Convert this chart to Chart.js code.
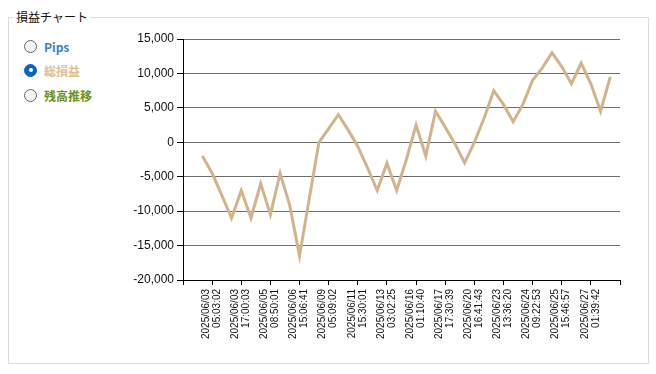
<!DOCTYPE html>
<html>
<head>
<meta charset="utf-8">
<script src="https://cdn.jsdelivr.net/npm/chart.js@4/dist/chart.umd.min.js"></script>
<style>
  html,body{margin:0;padding:0;background:#fff;}
  body{width:656px;height:374px;position:relative;overflow:hidden;font-family:"Noto Sans CJK JP","Noto Sans",sans-serif;}
  #box{position:absolute;left:8px;top:17px;width:639px;height:345px;border:1px solid #dcdcdc;}
  #title{position:absolute;left:14px;top:8px;background:#fff;padding:0 2px;font-size:12px;line-height:18px;color:#111;}
  .radio{position:absolute;left:24px;height:16px;display:flex;align-items:center;font-size:12px;font-weight:bold;}
  .dot{width:11px;height:11px;border-radius:50%;border:1px solid #666;background:#f3f3f3;margin-right:7px;box-sizing:content-box;position:relative;}
  .dot.on{background:#0a64c2;border-color:#0a64c2;}
  .dot.on::after{content:"";position:absolute;left:3.5px;top:3.5px;width:4px;height:4px;border-radius:50%;background:#fff;}
  canvas{position:absolute;left:0;top:0;}
</style>
</head>
<body>
<div id="box"></div>
<div id="title">損益チャート</div>
<div class="radio" style="top:38px;color:#3c82c8"><span class="dot"></span><span>Pips</span></div>
<div class="radio" style="top:62px;color:#dcc095"><span class="dot on"></span><span>総損益</span></div>
<div class="radio" style="top:87px;color:#6e9222"><span class="dot"></span><span>残高推移</span></div>
<canvas id="c" width="656" height="374"></canvas>
<script>
// ---- data ----
const firstIndex = 2;      // category index of the first point
const axisMaxIndex = 45;   // last category position on the x axis
const pnl = [
  -2000, -4500, -7700, -11000, -7000, -11000, -6000, -10500, -4500, -9200,
  -16500, -8200, 0, 2000, 4000, 1800, -600, -3700, -7000, -3000,
  -7000, -2500, 2500, -2000, 4500, 2200, -200, -3000, 0, 3500,
  7500, 5500, 3000, 5500, 9000, 10800, 13000, 11000, 8500, 11500,
  8500, 4500, 9500
];
const tickPositions = [3, 6, 9, 12, 15, 18, 21, 24, 27, 30, 33, 36, 39, 42];
const tickDates = ["2025/06/03","2025/06/03","2025/06/05","2025/06/06","2025/06/09","2025/06/11","2025/06/13",
                   "2025/06/16","2025/06/17","2025/06/20","2025/06/23","2025/06/24","2025/06/25","2025/06/27"];
const tickTimes = ["05:03:02","17:00:03","08:50:01","15:06:41","05:09:02","15:30:01","03:02:25",
                   "01:10:40","17:30:39","16:41:43","13:36:20","09:22:53","15:46:57","01:39:42"];
const yTicks = [15000, 10000, 5000, 0, -5000, -10000, -15000, -20000];

const points = pnl.map((v, i) => ({x: i + firstIndex, y: v}));
const labelMap = {};
tickPositions.forEach((p, i) => { labelMap[p] = [tickDates[i], tickTimes[i]]; });

new Chart(document.getElementById('c'), {
  type: 'line',
  data: { datasets: [{
    data: points,
    borderColor: '#d2b48c',
    borderWidth: 3,
    pointRadius: 0,
    tension: 0,
    fill: false
  }]},
  options: {
    responsive: false,
    animation: false,
    layout: { padding: { left: 123, top: 39, right: 36, bottom: 14 } },
    plugins: { legend: { display: false }, tooltip: { enabled: false } },
    scales: {
      x: {
        type: 'linear',
        min: 0,
        max: axisMaxIndex,
        afterBuildTicks: (axis) => {
          axis.ticks = [0, ...tickPositions, axisMaxIndex].map(v => ({value: v}));
        },
        afterFit: (axis) => { axis.height = 80; },
        border: { color: '#000', width: 1 },
        grid: { drawOnChartArea: false, drawTicks: true, tickLength: 5, tickColor: '#000', color: '#000' },
        ticks: {
          autoSkip: false,
          maxRotation: 90,
          minRotation: 90,
          padding: 4,
          labelOffset: -6,
          color: '#111',
          font: { family: 'Liberation Sans', size: 10, lineHeight: 1.1 },
          callback: (v) => labelMap[v] || ''
        }
      },
      y: {
        min: -20000,
        max: 15000,
        afterBuildTicks: (axis) => { axis.ticks = yTicks.map(v => ({value: v})); },
        afterFit: (axis) => { axis.width = 60; },
        border: { color: '#000', width: 1 },
        grid: { color: '#6e6e6e', tickColor: '#000', tickLength: 6, lineWidth: 1 },
        ticks: {
          padding: 3,
          color: '#111',
          font: { family: 'Liberation Sans', size: 12 },
          callback: (v) => v.toLocaleString('en-US')
        }
      }
    }
  }
});
</script>
</body>
</html>
